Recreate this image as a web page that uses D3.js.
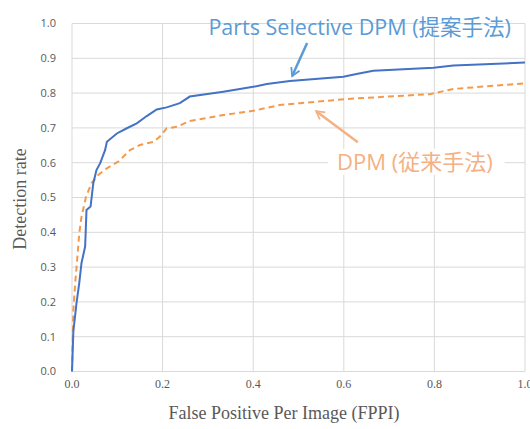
<!DOCTYPE html>
<html><head><meta charset="utf-8">
<script src="https://cdn.jsdelivr.net/npm/d3@7"></script>
<style>body{margin:0;background:#fff}</style>
</head><body>
<svg id="c" width="530" height="429"></svg>
<script>
const xTicks = [0, 0.2, 0.4, 0.6, 0.8, 1.0];
const yTicks = [0, 0.1, 0.2, 0.3, 0.4, 0.5, 0.6, 0.7, 0.8, 0.9, 1.0];
const proposedX = [0,0.003,0.010,0.016,0.021,0.029,0.032,0.041,0.047,0.054,0.062,0.073,0.077,0.099,0.121,0.143,0.165,0.187,0.209,0.238,0.260,0.334,0.400,0.430,0.481,0.599,0.628,0.665,0.798,0.842,1.0];
const proposedY = [0,0.115,0.197,0.254,0.312,0.359,0.464,0.474,0.541,0.579,0.598,0.636,0.660,0.684,0.699,0.713,0.734,0.753,0.759,0.771,0.790,0.804,0.818,0.826,0.835,0.847,0.855,0.864,0.873,0.879,0.888];
const baselineX = [0,0.003,0.007,0.012,0.016,0.021,0.031,0.043,0.058,0.077,0.102,0.128,0.150,0.180,0.194,0.209,0.231,0.260,0.334,0.400,0.459,0.503,0.606,0.790,0.842,1.0];
const baselineY = [0,0.177,0.253,0.330,0.397,0.445,0.502,0.541,0.565,0.584,0.603,0.636,0.651,0.660,0.675,0.699,0.703,0.720,0.737,0.749,0.766,0.771,0.783,0.797,0.812,0.828];
const labelProposed = "Parts Selective DPM (提案手法)";
const labelBaseline = "DPM (従来手法)";

const svg = d3.select("#c");
const L = 72, R = 525, T = 23.5, B = 371.5;
const x = d3.scaleLinear().domain([0, 1]).range([L, R]);
const y = d3.scaleLinear().domain([0, 1]).range([B, T]);

const grid = svg.append("g");
grid.selectAll(".gx").data(xTicks).enter().append("line")
  .attr("x1", d => x(d)).attr("x2", d => x(d)).attr("y1", T).attr("y2", B)
  .attr("stroke", "#d9d9d9").attr("stroke-width", 1);
grid.selectAll(".gy").data(yTicks).enter().append("line")
  .attr("x1", L).attr("x2", R).attr("y1", d => y(d)).attr("y2", d => y(d))
  .attr("stroke", "#d9d9d9").attr("stroke-width", 1);

svg.append("g").selectAll("text").data(yTicks).enter().append("text")
  .attr("x", 56).attr("y", d => y(d)).attr("dy", "0.35em")
  .attr("text-anchor", "end").attr("font-family", "Open Sans, sans-serif")
  .attr("font-size", 11).attr("fill", "#595959").text(d => d.toFixed(1));
svg.append("g").selectAll("text").data(xTicks).enter().append("text")
  .attr("x", d => x(d)).attr("y", 388).attr("text-anchor", "middle")
  .attr("font-family", "Liberation Serif, serif")
  .attr("font-size", 12).attr("fill", "#595959").text(d => d.toFixed(1));

svg.append("text").attr("x", 284).attr("y", 419).attr("text-anchor", "middle")
  .attr("font-family", "Liberation Serif, serif").attr("font-size", 18)
  .attr("fill", "#595959").text("False Positive Per Image (FPPI)");
svg.append("text").attr("transform", "translate(26,199) rotate(-90)")
  .attr("text-anchor", "middle").attr("font-family", "Liberation Serif, serif")
  .attr("font-size", 18).attr("fill", "#595959").text("Detection rate");

const line = d3.line().x(d => x(d[0])).y(d => y(d[1]));
const blue = proposedX.map((v, i) => [v, proposedY[i]]);
const orange = baselineX.map((v, i) => [v, baselineY[i]]);
svg.append("path").datum(orange).attr("d", line).attr("fill", "none")
  .attr("stroke", "#f49a4c").attr("stroke-width", 2).attr("stroke-dasharray", "6,4");
svg.append("path").datum(blue).attr("d", line).attr("fill", "none")
  .attr("stroke", "#4472c4").attr("stroke-width", 2);

const defs = svg.append("defs");
function marker(id, color) {
  defs.append("marker").attr("id", id).attr("viewBox", "0 0 10 10")
    .attr("refX", 8).attr("refY", 5).attr("markerWidth", 4.5).attr("markerHeight", 4.5)
    .attr("orient", "auto").append("path").attr("d", "M1,1 L8,5 L1,9")
    .attr("fill", "none").attr("stroke", color).attr("stroke-width", 1.6);
}
marker("mb", "#5b9bd5");
marker("mo", "#f4b183");

svg.append("line").attr("x1", x(0.519)).attr("y1", y(0.944)).attr("x2", x(0.486)).attr("y2", y(0.849))
  .attr("stroke", "#5b9bd5").attr("stroke-width", 2.5).attr("marker-end", "url(#mb)");
svg.append("line").attr("x1", x(0.631)).attr("y1", y(0.659)).attr("x2", x(0.539)).attr("y2", y(0.748))
  .attr("stroke", "#f4b183").attr("stroke-width", 2.5).attr("marker-end", "url(#mo)");

const fontAnn = "Open Sans, Noto Sans CJK JP, sans-serif";
svg.append("text").attr("x", x(0.635)).attr("y", y(0.99)).attr("dy", "0.35em")
  .attr("text-anchor", "middle").attr("font-family", fontAnn).attr("font-size", 21.5)
  .attr("fill", "#5b9bd5").text(labelProposed);
svg.append("rect").attr("x", x(0.565)).attr("y", y(0.64)).attr("width", x(0.955) - x(0.565))
  .attr("height", y(0.565) - y(0.64)).attr("fill", "#fff");
svg.append("text").attr("x", x(0.757)).attr("y", y(0.602)).attr("dy", "0.35em")
  .attr("text-anchor", "middle").attr("font-family", fontAnn).attr("font-size", 22)
  .attr("fill", "#f4b183").text(labelBaseline);
</script>
</body></html>
